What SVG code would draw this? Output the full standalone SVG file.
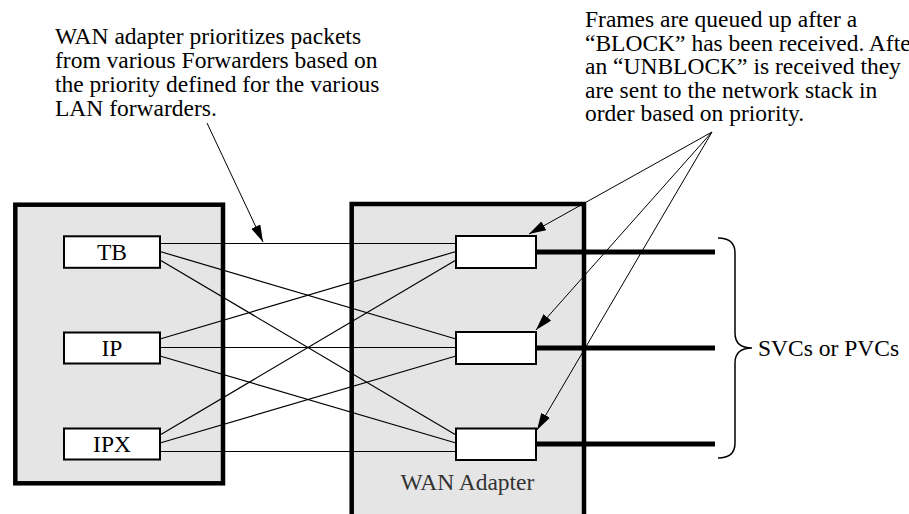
<svg xmlns="http://www.w3.org/2000/svg" width="909" height="514" viewBox="0 0 909 514">
  <style>
    text { font-family: "Liberation Serif", "Times New Roman", serif; font-size: 23.5px; fill: #000; }
    .big { fill: #e5e5e5; stroke: #000; stroke-width: 4.5; }
    .box { fill: #fff; stroke: #000; stroke-width: 2; }
    .thin { fill: none; stroke: #000; stroke-width: 1.2; }
    .ptr { fill: none; stroke: #000; stroke-width: 1; marker-end: url(#ah); }
    .svc { fill: none; stroke: #000; stroke-width: 5; }
    .lbl { text-anchor: middle; }
  </style>
  <defs>
    <marker id="ah" viewBox="0 0 17 10" refX="17" refY="5" markerWidth="17" markerHeight="10" markerUnits="userSpaceOnUse" orient="auto">
      <path d="M0,0 L17,5 L0,10 z" fill="#000"/>
    </marker>
  </defs>

  <g id="lan-forwarders">
    <rect class="big" x="15.3" y="204.7" width="207.7" height="278.6"/>
  </g>
  <g id="wan-adapter">
    <rect class="big" x="351.7" y="204" width="232.3" height="330"/>
    <text class="lbl" x="467.5" y="490" style="fill:#333">WAN Adapter</text>
  </g>

  <g id="connectors">
    <!-- horizontal links -->
    <line class="thin" x1="160" y1="243.5" x2="456" y2="243.5"/>
    <line class="thin" x1="160" y1="347.5" x2="456" y2="347.5"/>
    <line class="thin" x1="160" y1="451.5" x2="456" y2="451.5"/>
    <!-- cross links -->
    <line class="thin" x1="160" y1="251.5" x2="456" y2="339"/>
    <line class="thin" x1="160" y1="260" x2="456" y2="435"/>
    <line class="thin" x1="160" y1="339" x2="456" y2="251.5"/>
    <line class="thin" x1="160" y1="356" x2="456" y2="443"/>
    <line class="thin" x1="160" y1="435" x2="456" y2="260"/>
    <line class="thin" x1="160" y1="443" x2="456" y2="356"/>
    <!-- SVC / PVC lines -->
    <line class="svc" x1="536" y1="252" x2="715" y2="252"/>
    <line class="svc" x1="536" y1="348" x2="715" y2="348"/>
    <line class="svc" x1="536" y1="444" x2="715" y2="444"/>
    <!-- annotation pointers -->
    <line class="ptr" x1="207" y1="123" x2="263" y2="242"/>
    <line class="ptr" x1="712" y1="132" x2="529" y2="234"/>
    <line class="ptr" x1="712" y1="132" x2="536" y2="330"/>
    <line class="ptr" x1="712" y1="132" x2="537" y2="430"/>
    <!-- brace -->
    <path class="thin" style="stroke-width:1.5" d="M718,238 C729,238 735,243 735,253 V333 C735,343 741,348 752,348 C741,348 735,353 735,363 V443 C735,453 729,458 718,458"/>
  </g>

  <g id="node-tb">
    <rect class="box" x="64" y="236.3" width="96" height="31.5"/>
    <text class="lbl" x="112" y="260">TB</text>
  </g>
  <g id="node-ip">
    <rect class="box" x="64" y="332.5" width="96" height="31"/>
    <text class="lbl" x="112" y="356">IP</text>
  </g>
  <g id="node-ipx">
    <rect class="box" x="64" y="428.5" width="96" height="31"/>
    <text class="lbl" x="112" y="452">IPX</text>
  </g>

  <g id="queue-1"><rect class="box" x="456" y="236" width="80" height="32"/></g>
  <g id="queue-2"><rect class="box" x="456" y="332" width="80" height="32"/></g>
  <g id="queue-3"><rect class="box" x="456" y="428.5" width="80" height="31.5"/></g>

  <g id="note-left">
    <text x="55" y="43.5">WAN adapter prioritizes packets</text>
    <text x="55" y="67.5">from various Forwarders based on</text>
    <text x="55" y="91.5">the priority defined for the various</text>
    <text x="55" y="115.5">LAN forwarders.</text>
  </g>
  <g id="note-right">
    <text x="585" y="27">Frames are queued up after a</text>
    <text x="585" y="50.5">“BLOCK” has been received. After</text>
    <text x="585" y="74">an “UNBLOCK” is received they</text>
    <text x="585" y="97.5">are sent to the network stack in</text>
    <text x="585" y="121">order based on priority.</text>
  </g>
  <g id="label-svc">
    <text x="758" y="356">SVCs or PVCs</text>
  </g>
</svg>
